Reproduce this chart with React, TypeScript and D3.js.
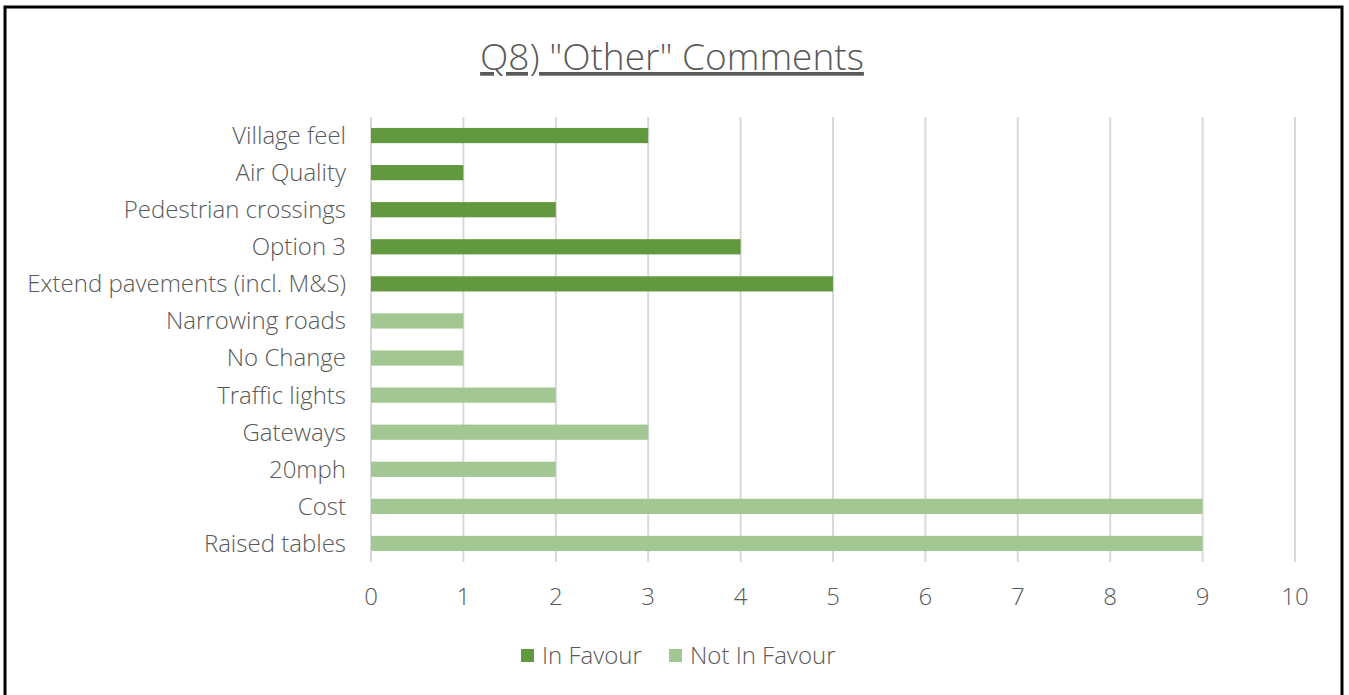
import { useMemo } from 'react';
import * as d3 from 'd3';

const categories = [
  'Village feel',
  'Air Quality',
  'Pedestrian crossings',
  'Option 3',
  'Extend pavements (incl. M&S)',
  'Narrowing roads',
  'No Change',
  'Traffic lights',
  'Gateways',
  '20mph',
  'Cost',
  'Raised tables',
];
const inFavour = [3, 1, 2, 4, 5, 0, 0, 0, 0, 0, 0, 0];
const notInFavour = [0, 0, 0, 0, 0, 1, 1, 2, 3, 2, 9, 9];
const xTicks = [0, 1, 2, 3, 4, 5, 6, 7, 8, 9, 10];
const seriesNames = ['In Favour', 'Not In Favour'];

const W = 1349;
const H = 695;
const FONT = '"Open Sans", Lato, sans-serif';
const FS = 24;
const TEXT = '#595959';
const DARK = '#62993e';
const LIGHT = '#a2c793';

export default function App() {
  const x = useMemo(() => d3.scaleLinear().domain([0, 10]).range([371, 1295]), []);
  const y = useMemo(() => d3.scaleBand().domain(categories).range([117, 562]).padding(0), []);
  const bh = y.bandwidth() * 0.41;

  const bars = categories.flatMap((c, i) => {
    const out: { c: string; v: number; col: string }[] = [];
    if (inFavour[i] > 0) out.push({ c, v: inFavour[i], col: DARK });
    if (notInFavour[i] > 0) out.push({ c, v: notInFavour[i], col: LIGHT });
    return out;
  });

  return (
    <svg width={W} height={H} style={{ position: 'absolute', left: 0, top: 0, background: '#fff' }}>
      <rect x={5} y={7} width={1337} height={710} fill="#fff" stroke="#000" strokeWidth={3} />

      <text x={672} y={70} textAnchor="middle" fontFamily={FONT} fontSize={37} fontWeight={300} fill={TEXT}
        textDecoration="underline">
        Q8) "Other" Comments
      </text>

      {/* grid */}
      {xTicks.map(t => (
        <line key={t} x1={x(t)} x2={x(t)} y1={117} y2={562} stroke="#d9d9d9" strokeWidth={2} />
      ))}

      {bars.map(b => (
        <rect key={b.c} x={x(0)} y={(y(b.c) ?? 0) + (y.bandwidth() - bh) / 2}
          width={x(b.v) - x(0)} height={bh} fill={b.col} />
      ))}

      {categories.map(c => (
        <text key={c} x={346} y={(y(c) ?? 0) + y.bandwidth() / 2} dy="0.35em" textAnchor="end"
          fontFamily={FONT} fontSize={FS} fontWeight={300} fill={TEXT}>
          {c}
        </text>
      ))}

      {xTicks.map(t => (
        <text key={t} x={x(t)} y={597} dy="0.35em" textAnchor="middle"
          fontFamily={FONT} fontSize={FS} fontWeight={300} fill={TEXT}>
          {t}
        </text>
      ))}

      {/* legend */}
      <g>
        <rect x={521} y={649} width={13} height={13} fill={DARK} />
        <text x={542} y={656} dy="0.35em" fontFamily={FONT} fontSize={FS} fontWeight={300} fill={TEXT}>{seriesNames[0]}</text>
        <rect x={669} y={649} width={13} height={13} fill={LIGHT} />
        <text x={690} y={656} dy="0.35em" fontFamily={FONT} fontSize={FS} fontWeight={300} fill={TEXT}>{seriesNames[1]}</text>
      </g>
    </svg>
  );
}
